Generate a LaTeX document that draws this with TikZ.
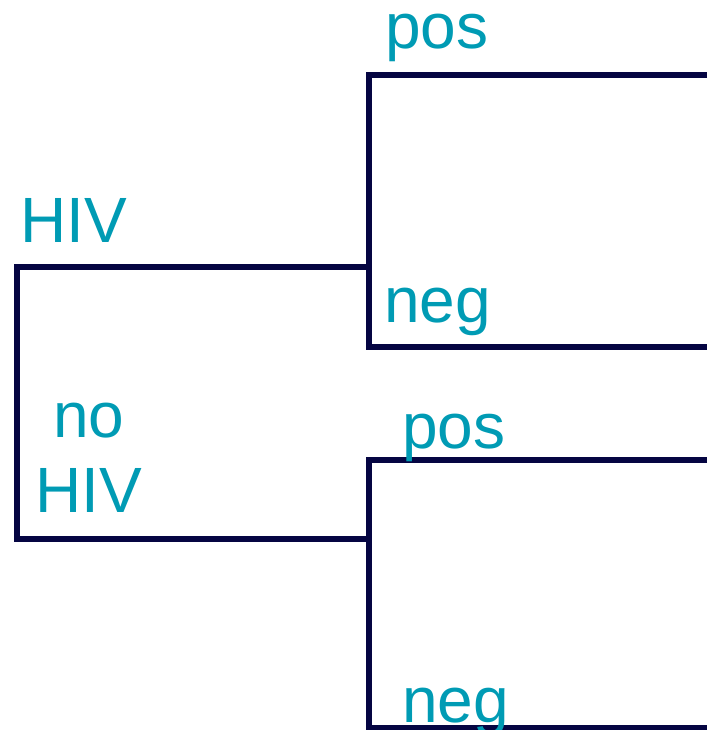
\documentclass[tikz,border=0pt]{standalone}
\usepackage{fontspec}
\setmainfont{Liberation Sans}
\definecolor{navy}{RGB}{5,5,66}
\definecolor{teal}{RGB}{0,155,180}
\begin{document}
\begin{tikzpicture}[x=1pt,y=-1pt,
  branch/.style={draw=navy,line width=5.5pt,line join=miter},
  lbl/.style={text=teal,anchor=base west,inner sep=0pt,font=\fontsize{64}{74}\selectfont}]
\useasboundingbox (0,0) rectangle (707,730);
% left bracket
\coordinate (hivtop) at (17,267);
\coordinate (hivend) at (369,267);
\coordinate (nohivbot) at (17,539);
\coordinate (nohivend) at (369,539);
% upper bracket
\coordinate (upA) at (369,75);
\coordinate (upAend) at (707,75);
\coordinate (upB) at (369,347);
\coordinate (upBend) at (707,347);
% lower bracket
\coordinate (loA) at (369,460);
\coordinate (loAend) at (707,460);
\coordinate (loB) at (369,728);
\coordinate (loBend) at (707,728);
\draw[branch] (hivend) -- (hivtop) -- (nohivbot) -- (nohivend);
\draw[branch] (upAend) -- (upA) -- (upB) -- (upBend);
\draw[branch] (loAend) -- (loA) -- (loB) -- (loBend);
\node[lbl] (t1) at (20,242) {HIV};
\node[lbl] (t2) at (53,437) {no};
\node[lbl] (t3) at (35,512) {HIV};
\node[lbl] (p1) at (385,49) {pos};
\node[lbl] (n1) at (384,322) {neg};
\node[lbl] (p2) at (402,448) {pos};
\node[lbl] (n2) at (402,722) {neg};
\end{tikzpicture}
\end{document}
